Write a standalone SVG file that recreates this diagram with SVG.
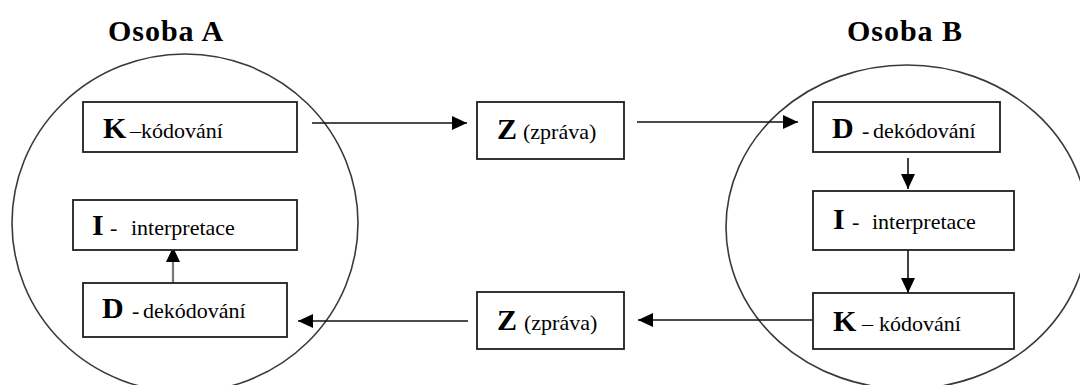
<svg xmlns="http://www.w3.org/2000/svg" width="1080" height="385" viewBox="0 0 1080 385">
  <style>
    .person { fill: none; stroke: #3a3a3a; stroke-width: 1.6; }
    .box { fill: #ffffff; stroke: #1e1e1e; stroke-width: 1.8; }
    .title { font-family: 'Liberation Serif', 'Times New Roman', serif; font-size: 30px; font-weight: bold; letter-spacing: 1px; fill: #000; }
    .big { font-family: 'Liberation Serif', 'Times New Roman', serif; font-size: 30px; font-weight: bold; fill: #000; }
    .small { font-family: 'Liberation Serif', 'Times New Roman', serif; font-size: 22px; fill: #000; }
    .flow { fill: none; stroke: #111; stroke-width: 1.6; }
    .flow-grey { fill: none; stroke: #777; stroke-width: 2.2; }
  </style>
  <defs>
    <marker id="head" markerUnits="userSpaceOnUse" markerWidth="15" markerHeight="14" refX="15" refY="7" orient="auto">
      <path d="M0,0 L15,7 L0,14 z" fill="#000"/>
    </marker>
  </defs>

  <rect x="0" y="0" width="1080" height="385" fill="#ffffff"/>

  <!-- Person A -->
  <g id="person-a">
    <text class="title" x="166" y="41" text-anchor="middle">Osoba A</text>
    <ellipse class="person" cx="185" cy="223" rx="173" ry="169"/>
  </g>

  <!-- Person B -->
  <g id="person-b">
    <text class="title" x="905" y="41" text-anchor="middle">Osoba B</text>
    <ellipse class="person" cx="907" cy="227" rx="181" ry="162"/>
  </g>

  <!-- Connectors -->
  <g id="connectors">
    <path class="flow" d="M312,123 H467" marker-end="url(#head)"/>
    <path class="flow" d="M637,122 H798" marker-end="url(#head)"/>
    <path class="flow" d="M908,158 V189" marker-end="url(#head)"/>
    <path class="flow" d="M908,250 V293" marker-end="url(#head)"/>
    <path class="flow" d="M813,320 H638" marker-end="url(#head)"/>
    <path class="flow" d="M468,321 H298" marker-end="url(#head)"/>
    <path class="flow-grey" d="M173,283 V247" marker-end="url(#head)"/>
  </g>

  <!-- Person A: encoding -->
  <g id="a-kodovani">
    <rect class="box" x="83" y="102" width="214" height="50"/>
    <text x="103" y="138"><tspan class="big">K</tspan><tspan class="small" x="130">–kódování</tspan></text>
  </g>

  <!-- Person A: interpretation -->
  <g id="a-interpretace">
    <rect class="box" x="73" y="200" width="224" height="50"/>
    <text x="92" y="235"><tspan class="big">I</tspan><tspan class="small" x="110">-</tspan><tspan class="small" x="131">interpretace</tspan></text>
  </g>

  <!-- Person A: decoding -->
  <g id="a-dekodovani">
    <rect class="box" x="83" y="283" width="204" height="54"/>
    <text x="102" y="318"><tspan class="big">D</tspan><tspan class="small" x="132">-</tspan><tspan class="small" x="143">dekódování</tspan></text>
  </g>

  <!-- Message A to B -->
  <g id="zprava-ab">
    <rect class="box" x="477" y="102" width="147" height="57"/>
    <text x="497" y="139"><tspan class="big">Z</tspan><tspan class="small" x="523" font-size="23">(zpráva)</tspan></text>
  </g>

  <!-- Message B to A -->
  <g id="zprava-ba">
    <rect class="box" x="477" y="292" width="147" height="57"/>
    <text x="497" y="330"><tspan class="big">Z</tspan><tspan class="small" x="524" font-size="23">(zpráva)</tspan></text>
  </g>

  <!-- Person B: decoding -->
  <g id="b-dekodovani">
    <rect class="box" x="813" y="102" width="187" height="50"/>
    <text x="832" y="138"><tspan class="big">D</tspan><tspan class="small" x="862">-</tspan><tspan class="small" x="873">dekódování</tspan></text>
  </g>

  <!-- Person B: interpretation -->
  <g id="b-interpretace">
    <rect class="box" x="813" y="191" width="201" height="59"/>
    <text x="833" y="229"><tspan class="big">I</tspan><tspan class="small" x="852">-</tspan><tspan class="small" x="872">interpretace</tspan></text>
  </g>

  <!-- Person B: encoding -->
  <g id="b-kodovani">
    <rect class="box" x="813" y="293" width="201" height="56"/>
    <text x="833" y="331"><tspan class="big">K</tspan><tspan class="small" x="862">–</tspan><tspan class="small" x="879">kódování</tspan></text>
  </g>
</svg>
